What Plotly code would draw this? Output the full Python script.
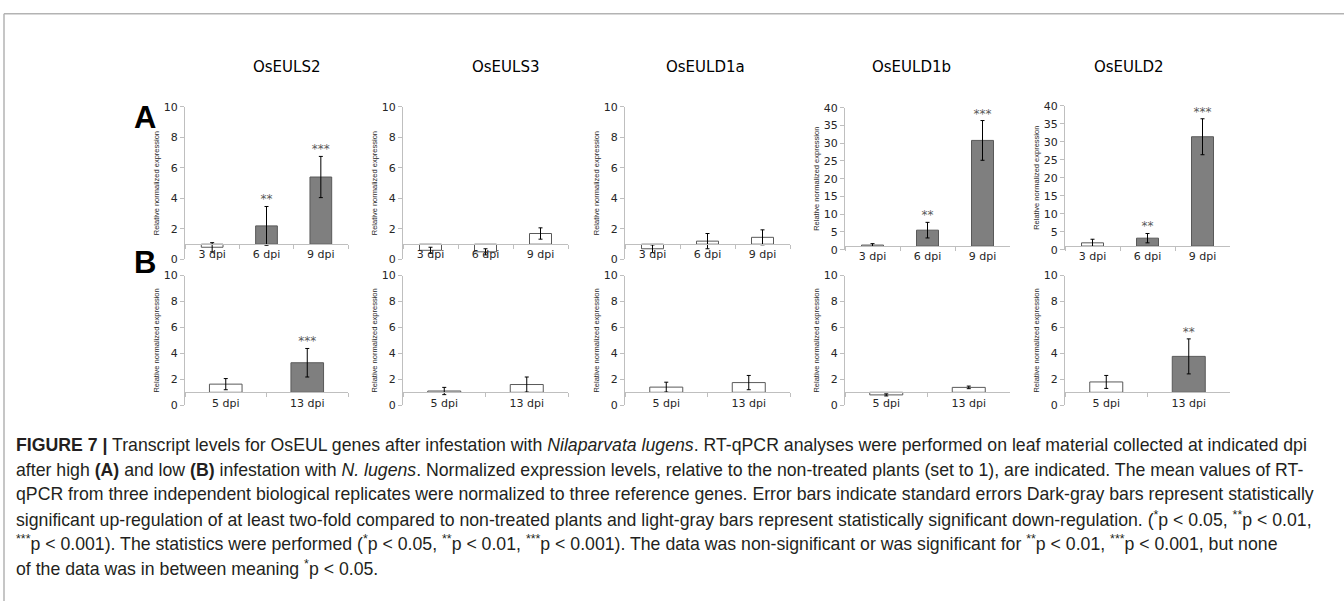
import plotly.graph_objects as go

W, H = 1344, 608

genes = ["OsEULS2", "OsEULS3", "OsEULD1a", "OsEULD1b", "OsEULD2"]
cats_A = ["3 dpi", "6 dpi", "9 dpi"]
cats_B = ["5 dpi", "13 dpi"]

# (A) high infestation: mean relative expression, standard error, significance
A_OsEULS2_mean = [0.8, 2.2, 5.4]
A_OsEULS2_err = [0.3, 1.27, 1.35]
A_OsEULS2_sig = ["", "**", "***"]
A_OsEULS3_mean = [0.6, 0.5, 1.7]
A_OsEULS3_err = [0.2, 0.2, 0.37]
A_OsEULS3_sig = ["", "", ""]
A_OsEULD1a_mean = [0.7, 1.2, 1.45]
A_OsEULD1a_err = [0.25, 0.5, 0.49]
A_OsEULD1a_sig = ["", "", ""]
A_OsEULD1b_mean = [1.3, 5.5, 30.8]
A_OsEULD1b_err = [0.4, 2.2, 5.6]
A_OsEULD1b_sig = ["", "**", "***"]
A_OsEULD2_mean = [1.9, 3.2, 31.4]
A_OsEULD2_err = [1.0, 1.3, 5.0]
A_OsEULD2_sig = ["", "**", "***"]

# (B) low infestation
B_OsEULS2_mean = [1.63, 3.28]
B_OsEULS2_err = [0.43, 1.1]
B_OsEULS2_sig = ["", "***"]
B_OsEULS3_mean = [1.1, 1.6]
B_OsEULS3_err = [0.28, 0.58]
B_OsEULS3_sig = ["", ""]
B_OsEULD1a_mean = [1.4, 1.75]
B_OsEULD1a_err = [0.38, 0.55]
B_OsEULD1a_sig = ["", ""]
B_OsEULD1b_mean = [0.8, 1.38]
B_OsEULD1b_err = [0.08, 0.1]
B_OsEULD1b_sig = ["", ""]
B_OsEULD2_mean = [1.8, 3.77]
B_OsEULD2_err = [0.5, 1.35]
B_OsEULD2_sig = ["", "**"]

A_ymax = [10, 10, 10, 40, 40]
A_dtick = [2, 2, 2, 5, 5]
B_ymax = [10, 10, 10, 10, 10]
B_dtick = [2, 2, 2, 2, 2]
BASELINE = 1  # non-treated plants set to 1; category axis crosses here

rows = [
    (cats_A,
     [A_OsEULS2_mean, A_OsEULS3_mean, A_OsEULD1a_mean, A_OsEULD1b_mean, A_OsEULD2_mean],
     [A_OsEULS2_err, A_OsEULS3_err, A_OsEULD1a_err, A_OsEULD1b_err, A_OsEULD2_err],
     [A_OsEULS2_sig, A_OsEULS3_sig, A_OsEULD1a_sig, A_OsEULD1b_sig, A_OsEULD2_sig],
     A_ymax, A_dtick),
    (cats_B,
     [B_OsEULS2_mean, B_OsEULS3_mean, B_OsEULD1a_mean, B_OsEULD1b_mean, B_OsEULD2_mean],
     [B_OsEULS2_err, B_OsEULS3_err, B_OsEULD1a_err, B_OsEULD1b_err, B_OsEULD2_err],
     [B_OsEULS2_sig, B_OsEULS3_sig, B_OsEULD1a_sig, B_OsEULD1b_sig, B_OsEULD2_sig],
     B_ymax, B_dtick),
]

# ---- layout (pixels) ----
col_x = [(185, 348), (403, 568), (625, 790), (845, 1010), (1065, 1230)]
row_y = [
    [(103, 259), (103, 259), (103, 259), (104, 249), (102, 249)],
    [(275.5, 408), (275.5, 408), (275.5, 408), (275.5, 408), (275.5, 408)],
]
title_x = [287, 506, 705, 911, 1129]
title_y = 62

DARK = "#7f7f7f"
AXIS = "#bfbfbf"
TXT = "#262626"
TICKFONT = dict(family="DejaVu Sans", size=11, color=TXT)


def px_x(v):
    return v / W


def px_y(v):
    return 1 - v / H


fig = go.Figure()
layout = dict(
    width=W, height=H,
    margin=dict(l=0, r=0, t=0, b=0),
    paper_bgcolor="white", plot_bgcolor="white",
    showlegend=False, bargap=0.6,
)

k = 0
for r, (cats, means, errs, sigs, ymaxs, dticks) in enumerate(rows):
    for c in range(5):
        k += 1
        xa = "x" if k == 1 else f"x{k}"
        ya = "y" if k == 1 else f"y{k}"
        mean, err, sig = means[c], errs[c], sigs[c]
        colors = [DARK if s else "white" for s in sig]
        fig.add_trace(go.Bar(
            x=cats, y=[m - BASELINE for m in mean], base=BASELINE,
            marker=dict(color=colors, line=dict(color="#595959", width=1)),
            xaxis=xa, yaxis=ya, hoverinfo="skip",
        ))
        fig.add_trace(go.Scatter(
            x=cats, y=mean, mode="markers",
            marker=dict(size=1, opacity=0),
            error_y=dict(type="data", array=err, visible=True,
                         color="black", thickness=1, width=2),
            xaxis=xa, yaxis=ya, hoverinfo="skip",
        ))
        fig.add_trace(go.Scatter(
            x=cats, y=[m + e for m, e in zip(mean, err)], mode="text",
            text=sig, textposition="top center",
            textfont=dict(family="DejaVu Sans", size=12, color="#595959"),
            xaxis=xa, yaxis=ya, hoverinfo="skip",
        ))
        x0, x1 = col_x[c]
        yt, yb = row_y[r][c]
        ymax = ymaxs[c]
        d0, d1 = px_y(yb), px_y(yt)
        cross = d0 + (BASELINE / ymax) * (d1 - d0)
        layout["xaxis" if k == 1 else f"xaxis{k}"] = dict(
            domain=[px_x(x0), px_x(x1)], anchor="free", position=cross,
            type="category", range=[-0.5, len(cats) - 0.5],
            showline=True, linecolor=AXIS, linewidth=1,
            ticks="outside", tickson="boundaries", ticklen=4, tickcolor=AXIS,
            tickfont=TICKFONT, showgrid=False, zeroline=False, fixedrange=True,
        )
        layout["yaxis" if k == 1 else f"yaxis{k}"] = dict(
            domain=[d0, d1], anchor=xa, range=[0, ymax], dtick=dticks[c],
            showline=True, linecolor=AXIS, linewidth=1,
            ticks="outside", ticklen=4, tickcolor=AXIS,
            tickfont=TICKFONT, showgrid=False, zeroline=False, fixedrange=True,
            title=dict(text="Relative normalized expression",
                       font=dict(family="Liberation Sans", size=7.5, color=TXT),
                       standoff=3),
        )

annotations = []
for g, tx in zip(genes, title_x):
    annotations.append(dict(
        text=g, x=px_x(tx), y=px_y(title_y), xref="paper", yref="paper",
        xanchor="center", yanchor="middle", showarrow=False,
        font=dict(family="DejaVu Sans", size=15, color="black"),
    ))
for lab, ly in [("A", 114), ("B", 262)]:
    annotations.append(dict(
        text=f"<b>{lab}</b>", x=px_x(145), y=px_y(ly), xref="paper", yref="paper",
        xanchor="center", yanchor="middle", showarrow=False,
        font=dict(family="Liberation Sans", size=31, color="black"),
    ))

caption_lines = [
    "<b>FIGURE 7 |</b> Transcript levels for OsEUL genes after infestation with <i>Nilaparvata lugens</i>. RT-qPCR analyses were performed on leaf material collected at indicated dpi",
    "after high <b>(A)</b> and low <b>(B)</b> infestation with <i>N. lugens</i>. Normalized expression levels, relative to the non-treated plants (set to 1), are indicated. The mean values of RT-",
    "qPCR from three independent biological replicates were normalized to three reference genes. Error bars indicate standard errors Dark-gray bars represent statistically",
    "significant up-regulation of at least two-fold compared to non-treated plants and light-gray bars represent statistically significant down-regulation. (<sup>*</sup>p &lt; 0.05, <sup>**</sup>p &lt; 0.01,",
    "<sup>***</sup>p &lt; 0.001). The statistics were performed (<sup>*</sup>p &lt; 0.05, <sup>**</sup>p &lt; 0.01, <sup>***</sup>p &lt; 0.001). The data was non-significant or was significant for <sup>**</sup>p &lt; 0.01, <sup>***</sup>p &lt; 0.001, but none",
    "of the data was in between meaning <sup>*</sup>p &lt; 0.05.",
]
for i, line in enumerate(caption_lines):
    annotations.append(dict(
        text=line, x=px_x(14), y=px_y(449 + 25 * i), xref="paper", yref="paper",
        xanchor="left", yanchor="middle", showarrow=False, align="left",
        font=dict(family="Liberation Sans", size=17.7, color="#231f20"),
    ))
layout["annotations"] = annotations

layout["shapes"] = [
    dict(type="line", xref="paper", yref="paper", x0=px_x(4), x1=1,
         y0=px_y(8), y1=px_y(8), line=dict(color="#b3b3b3", width=1.5)),
    dict(type="line", xref="paper", yref="paper", x0=px_x(4), x1=px_x(4),
         y0=0, y1=px_y(8), line=dict(color="#b3b3b3", width=1.5)),
]

fig.update_layout(**layout)
fig.write_html("out.html",
               config={"displayModeBar": False, "staticPlot": True},
               post_script="document.body.style.margin='0px';document.body.style.overflow='hidden';")
